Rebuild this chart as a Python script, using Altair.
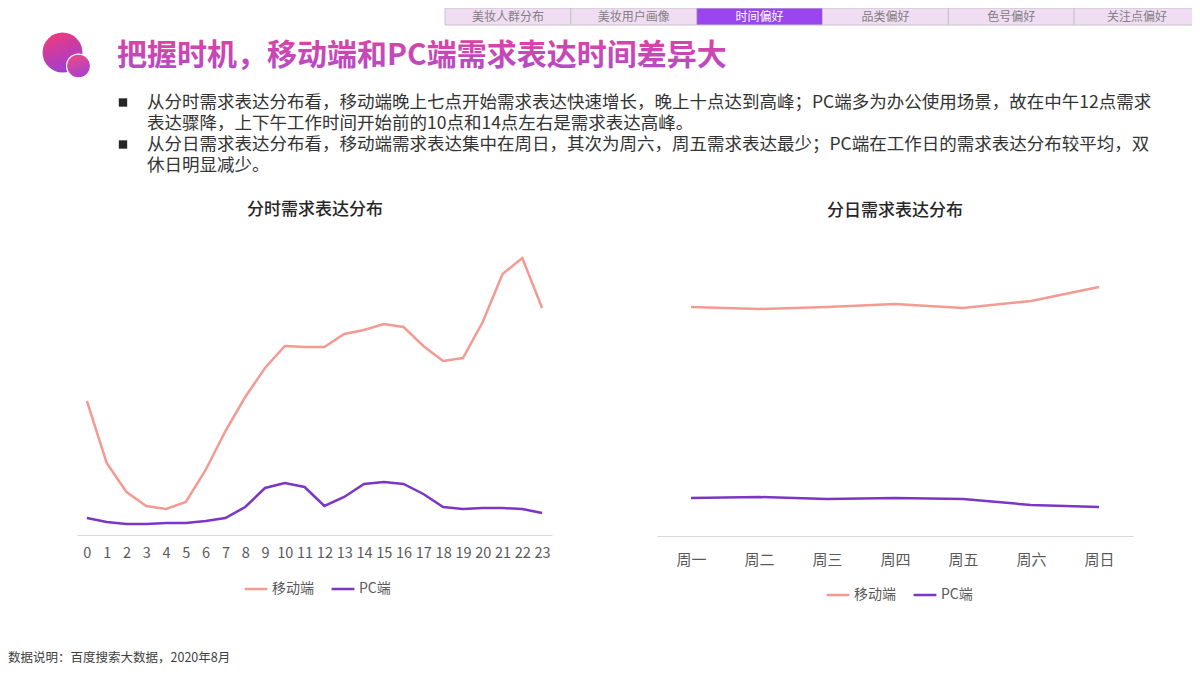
import altair as alt
import pandas as pd

FONT = "Noto Sans CJK SC"

# ---- data ----
hours = list(range(24))
mobile_hour = [134, 72, 43, 29, 26, 33, 65, 104, 138, 167, 189, 188, 188, 201, 205, 211, 208, 189, 174, 177, 213, 261, 277, 227]
pc_hour = [17, 13, 11, 11, 12, 12, 14, 17, 28, 47, 52, 48, 29, 38, 51, 53, 51, 41, 28, 26, 27, 27, 26, 22]

days = ["周一", "周二", "周三", "周四", "周五", "周六", "周日"]
mobile_day = [229, 227, 229, 232, 228, 235, 249]
pc_day = [38, 39, 37, 38, 37, 31, 29]

series_names = ["移动端", "PC端"]
tabs = ["美妆人群分布", "美妆用户画像", "时间偏好", "品类偏好", "色号偏好", "关注点偏好"]
active_tab = "时间偏好"

title_text = "把握时机，移动端和PC端需求表达时间差异大"
bullet1 = ["从分时需求表达分布看，移动端晚上七点开始需求表达快速增长，晚上十点达到高峰；PC端多为办公使用场景，故在中午12点需求",
           "表达骤降，上下午工作时间开始前的10点和14点左右是需求表达高峰。"]
bullet2 = ["从分日需求表达分布看，移动端需求表达集中在周日，其次为周六，周五需求表达最少；PC端在工作日的需求表达分布较平均，双",
           "休日明显减少。"]
left_title = "分时需求表达分布"
right_title = "分日需求表达分布"
footer = "数据说明：百度搜索大数据，2020年8月"

COL_MOBILE = "#F39A92"
COL_PC = "#7B36C6"

W, H = 1184, 659

df_left = pd.DataFrame({
    "hour": hours * 2,
    "series": [series_names[0]] * 24 + [series_names[1]] * 24,
    "value": mobile_hour + pc_hour,
})
df_right = pd.DataFrame({
    "day": days * 2,
    "series": [series_names[0]] * 7 + [series_names[1]] * 7,
    "value": mobile_day + pc_day,
})
df_tabs = pd.DataFrame({"tab": tabs})
one = pd.DataFrame({"a": [0]})


def legend(x, y):
    return alt.Legend(orient="none", legendX=x, legendY=y, direction="horizontal", title=None,
                      symbolType="stroke", symbolSize=520, symbolStrokeWidth=2.5,
                      labelFontSize=14, labelColor="#595959", labelFont=FONT,
                      columnPadding=12, labelOffset=3, padding=0)


color_scale = alt.Scale(domain=series_names, range=[COL_MOBILE, COL_PC])

left = alt.Chart(df_left).mark_line(strokeWidth=2.5).encode(
    x=alt.X("hour:O", scale=alt.Scale(type="point", range=[69, 544], padding=0.5),
            axis=alt.Axis(orient="bottom", offset=527 - H, title=None, labelAngle=0, ticks=False,
                          domainColor="#D9D9D9", domainWidth=1, labelFontSize=14.5, labelColor="#595959",
                          labelFont=FONT, labelPadding=11, labelOverlap=False, grid=False)),
    y=alt.Y("value:Q", scale=alt.Scale(domain=[0, 300], range=[527, 227]), axis=None),
    color=alt.Color("series:N", scale=color_scale, legend=legend(235, 568)),
)

right = alt.Chart(df_right).mark_line(strokeWidth=2.5).encode(
    x=alt.X("day:N", sort=days, scale=alt.Scale(type="point", range=[649, 1125], padding=0.5),
            axis=alt.Axis(orient="bottom", offset=528 - H, title=None, labelAngle=0, ticks=False,
                          domainColor="#D9D9D9", domainWidth=1, labelFontSize=15, labelColor="#595959",
                          labelFont=FONT, labelPadding=16, labelOverlap=False, grid=False)),
    y=alt.Y("value:Q", scale=alt.Scale(domain=[0, 300], range=[528, 228]), axis=None),
    color=alt.Color("series:N", scale=color_scale, legend=legend(817, 574)),
)

tab_x = alt.X("tab:N", sort=tabs, scale=alt.Scale(type="band", range=[437, 1192], paddingInner=0, paddingOuter=0), axis=None)
is_active = alt.datum.tab == active_tab
tab_rects = alt.Chart(df_tabs).mark_rect(stroke="#C4C4C4", strokeWidth=1).encode(
    x=tab_x, y=alt.value(0), y2=alt.value(17),
    fill=alt.condition(is_active, alt.value("#9B45F0"), alt.value("#F1DDF3")),
)
tab_text = alt.Chart(df_tabs).mark_text(font=FONT, fontSize=12, baseline="middle").encode(
    x=tab_x, y=alt.value(9), text="tab:N",
    color=alt.condition(is_active, alt.value("#FFFFFF"), alt.value("#808080")),
)

grad_big = alt.LinearGradient(gradient="linear", x1=0.3, y1=0, x2=0.7, y2=1,
                              stops=[alt.GradientStop(offset=0, color="#EE3A7C"),
                                     alt.GradientStop(offset=1, color="#9A3ED8")])
grad_small = alt.LinearGradient(gradient="linear", x1=0.3, y1=0, x2=0.7, y2=1,
                                stops=[alt.GradientStop(offset=0, color="#EC4A84"),
                                       alt.GradientStop(offset=1, color="#A43FD6")])
logo_big = alt.Chart(one).mark_point(shape="circle", filled=True, size=1590, fill=grad_big, opacity=1,
                                     strokeWidth=0).encode(x=alt.value(54.5), y=alt.value(44.5))
logo_small = alt.Chart(one).mark_point(shape="circle", filled=True, size=572, fill=grad_small, opacity=1,
                                       stroke="#FFFFFF", strokeWidth=1.2, strokeOpacity=1).encode(
    x=alt.value(70.5), y=alt.value(58))

grad_title = alt.LinearGradient(gradient="linear", x1=0, y1=0, x2=0, y2=1,
                                stops=[alt.GradientStop(offset=0, color="#E4429A"),
                                       alt.GradientStop(offset=1, color="#B04BCE")])
title = alt.Chart(one).mark_text(text=title_text, font=FONT, fontSize=30, fontWeight="bold",
                                 fill=grad_title, align="left", baseline="middle").encode(
    x=alt.value(109), y=alt.value(48))

body_kw = dict(font=FONT, fontSize=17.5, color="#333333", align="left", baseline="middle")
b_texts = []
for txt, yy in [(bullet1[0], 94.5), (bullet1[1], 115.5), (bullet2[0], 136.5), (bullet2[1], 157.5)]:
    b_texts.append(alt.Chart(one).mark_text(text=txt, **body_kw).encode(x=alt.value(139), y=alt.value(yy)))
bullets = [alt.Chart(one).mark_point(shape="square", filled=True, size=70, color="#262626", opacity=1).encode(
    x=alt.value(115), y=alt.value(yy)) for yy in (94.5, 136.5)]

sub_kw = dict(font=FONT, fontSize=17, color="#262626", align="center", baseline="middle", fontWeight=500)
t_left = alt.Chart(one).mark_text(text=left_title, **sub_kw).encode(x=alt.value(307), y=alt.value(202))
t_right = alt.Chart(one).mark_text(text=right_title, **sub_kw).encode(x=alt.value(887), y=alt.value(203))

foot = alt.Chart(one).mark_text(text=footer, font=FONT, fontSize=12.5, color="#404040",
                                align="left", baseline="middle").encode(x=alt.value(0), y=alt.value(650))

chart = alt.layer(
    tab_rects, tab_text, logo_big, logo_small, title, *bullets, *b_texts, t_left, t_right, foot,
    left, right,
).resolve_scale(x="independent", y="independent", color="independent").resolve_axis(
    x="independent").properties(
    width=W, height=H, padding=0, autosize=alt.AutoSizeParams(type="none"),
).configure(font=FONT).configure_view(stroke=None)

chart.save("out.html", embed_options={"renderer": "svg", "actions": False})
